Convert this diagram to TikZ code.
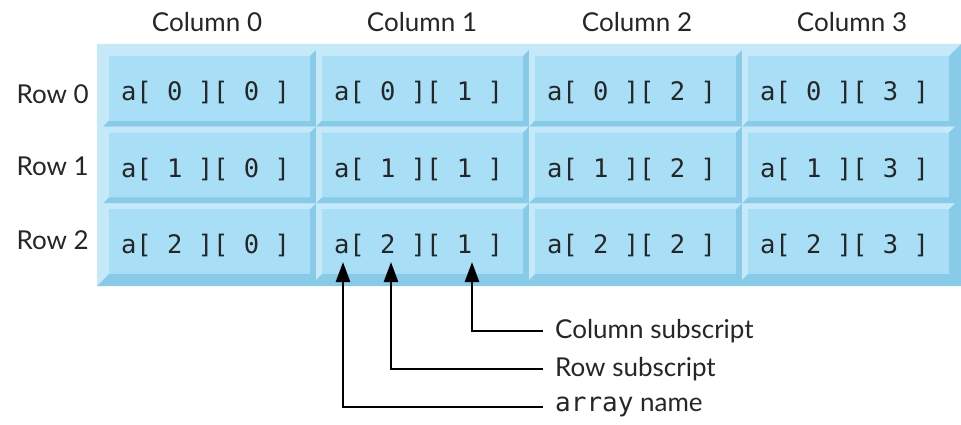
\documentclass[tikz,border=0pt]{standalone}
\usepackage{fontspec}
\setmainfont{Lato}
\newfontfamily\monofont{DejaVu Sans Mono}
\usetikzlibrary{arrows.meta}
\definecolor{face}{RGB}{168,223,247}
\definecolor{lite}{RGB}{198,233,249}
\definecolor{dark}{RGB}{136,203,233}
\newcommand\bevbox[5]{%
  \fill[lite] (#1,#2) -- (#3,#2) -- (#3-#5,#2+#5) -- (#1+#5,#2+#5) -- (#1+#5,#4-#5) -- (#1,#4) -- cycle;
  \fill[dark] (#3,#2) -- (#3,#4) -- (#1,#4) -- (#1+#5,#4-#5) -- (#3-#5,#4-#5) -- (#3-#5,#2+#5) -- cycle;
  \fill[face] (#1+#5,#2+#5) rectangle (#3-#5,#4-#5);
}
\tikzset{
  cell/.style={font=\monofont\fontsize{25.5}{30}\selectfont, text=black!85, inner sep=0pt},
  head/.style={font=\fontsize{26}{30}\selectfont, text=black!85, inner sep=0pt},
  lbl/.style={font=\fontsize{26}{30}\selectfont, text=black!85, anchor=west, inner xsep=12pt, inner ysep=0pt},
  conn/.style={line width=2.6pt, -{Triangle[length=20pt,width=14pt]}},
}
\begin{document}
\begin{tikzpicture}[x=1pt,y=-1pt]
\useasboundingbox (0,0) rectangle (961,425);
\bevbox{97}{44}{961}{286}{6}
\foreach \c in {0,...,3} {
  \foreach \r in {0,1,2} {
    \pgfmathsetmacro\xa{103+213*\c}
    \pgfmathsetmacro\xb{\xa+213}
    \pgfmathsetmacro\ya{50+76.667*\r}
    \pgfmathsetmacro\yb{\ya+76.667}
    \bevbox{\xa}{\ya}{\xb}{\yb}{6}
    \node[cell] (c\r\c) at ({(\xa+\xb)/2-4},{(\ya+\yb)/2+4}) {a[ \r{} ][ \c{} ]};
  }
}
\foreach \c in {0,...,3} {
  \node[head] (h\c) at ({207+215*\c},22) {Column \c};
}
\foreach \r/\y in {0/94,1/166,2/240} {
  \node[head, anchor=east] (r\r) at (89,\y) {Row \r};
}
\coordinate (tipA) at (343,262);
\coordinate (tipB) at (391,262);
\coordinate (tipC) at (472,262);
\node[lbl] (lC) at (543,331) {Column subscript};
\node[lbl] (lB) at (543,369) {Row subscript};
\node[lbl] (lA) at (543,407) {{\monofont array} name};
\draw[conn] (lC.west) -| (tipC);
\draw[conn] (lB.west) -| (tipB);
\draw[conn] (lA.west) -| (tipA);
\end{tikzpicture}
\end{document}
